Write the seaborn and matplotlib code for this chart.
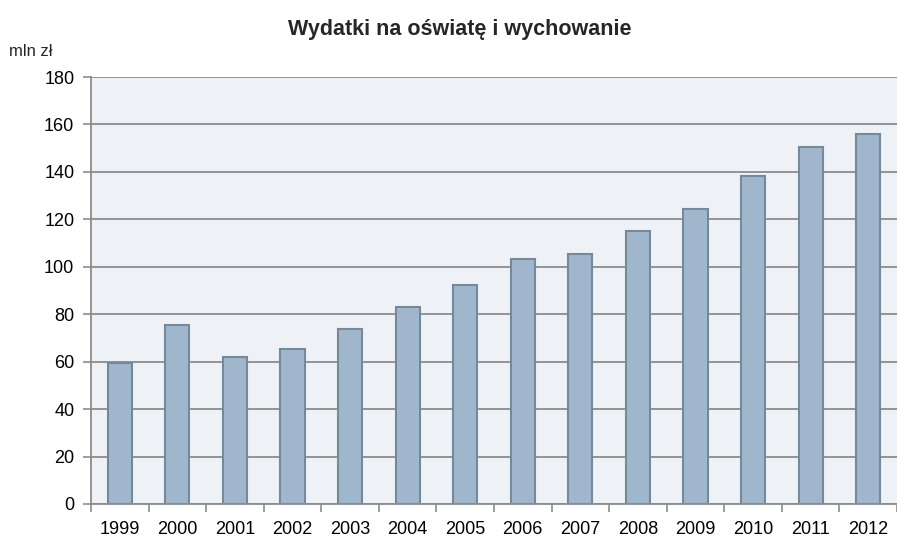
import matplotlib
matplotlib.use("Agg")
import matplotlib.pyplot as plt
import seaborn as sns
import pandas as pd
import numpy as np

years = ["1999", "2000", "2001", "2002", "2003", "2004", "2005",
         "2006", "2007", "2008", "2009", "2010", "2011", "2012"]
spending = [59.4, 75.6, 62.1, 65.5, 73.6, 83.0, 92.3,
            103.3, 105.4, 114.9, 124.2, 138.3, 150.5, 155.8]
y_ticks = [0, 20, 40, 60, 80, 100, 120, 140, 160, 180]

df = pd.DataFrame({"rok": years, "wydatki": spending})

sns.set_theme(style="white")
plt.rcParams["font.family"] = ["Liberation Sans", "DejaVu Sans"]

fig = plt.figure(figsize=(8.97, 5.4), dpi=100)
ax = fig.add_axes([91 / 897, 1 - 504 / 540, (897 - 91) / 897, (504 - 77) / 540])
ax.set_facecolor("#eef2f6")

sns.barplot(data=df, x="rok", y="wydatki", ax=ax, color="#a0b6cc",
            width=0.42, edgecolor="#748a9c", linewidth=1.5, saturation=1)

ax.set_ylim(0, 180)
ax.set_xlim(-0.5, len(years) - 0.5)
ax.set_yticks(y_ticks)
ax.yaxis.grid(True, color="#8c8c8c", linewidth=1.3)
ax.set_axisbelow(True)
ax.set_xlabel("")
ax.set_ylabel("")

for side in ["top", "right"]:
    ax.spines[side].set_visible(False)
for side in ["left", "bottom"]:
    ax.spines[side].set_color("#8c8c8c")
    ax.spines[side].set_linewidth(1.3)

# category separators drawn as minor ticks below the baseline
ax.set_xticks(np.arange(-0.5, len(years), 1.0), minor=True)
ax.tick_params(axis="y", which="major", left=True, length=6, width=1.2,
               color="#8c8c8c", labelsize=13, pad=6, labelcolor="black")
ax.tick_params(axis="x", which="major", bottom=False, labelsize=13,
               pad=6, labelcolor="black")
ax.tick_params(axis="x", which="minor", bottom=True, length=6, width=1.2,
               color="#8c8c8c")

fig.text(460 / 897, 1 - 30 / 540, "Wydatki na oświatę i wychowanie",
         ha="center", va="center", fontsize=15.5, fontweight="bold")
fig.text(9 / 897, 1 - 51 / 540, "mln zł", ha="left", va="center",
         fontsize=12)

fig.savefig("out.png", dpi=100)
